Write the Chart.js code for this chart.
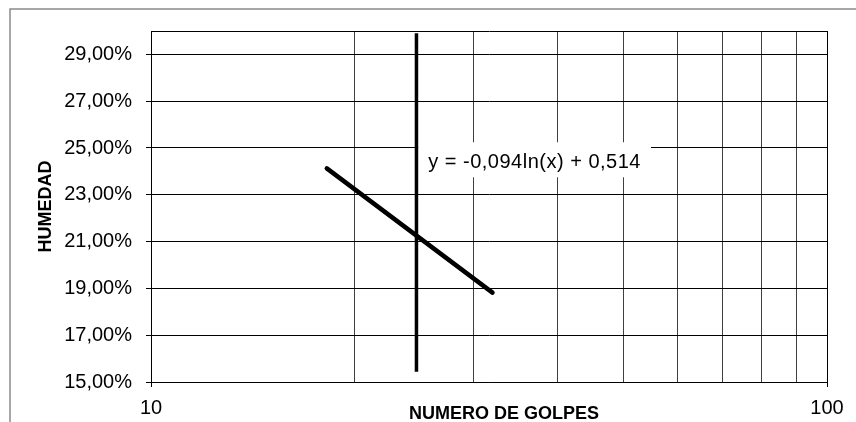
<!DOCTYPE html>
<html>
<head>
<meta charset="utf-8">
<script src="https://cdn.jsdelivr.net/npm/chart.js@4/dist/chart.umd.min.js"></script>
<style>
  html, body { margin: 0; padding: 0; background: #ffffff; }
  #wrap { position: relative; width: 856px; height: 422px; }
</style>
</head>
<body>
<div id="wrap"><canvas id="c" width="856" height="422"></canvas></div>
<script>
// ---- data ----
const xGridValues = [10, 20, 30, 40, 50, 60, 70, 80, 90, 100];
const xLabeledValues = [10, 100];
const yTickValues = [0.15, 0.17, 0.19, 0.21, 0.23, 0.25, 0.27, 0.29];
const yMin = 0.15;
const yMax = 0.30;
const xMin = 10;
const xMax = 100;

const trendX = [18.2, 32.0];
const trendY = [0.2413, 0.1882];

const verticalX = [24.7, 24.7];
const verticalY = [0.1544, 0.299];

const equationText = 'y = -0,094ln(x) + 0,514';
const equationAnchorX = 24.85;   // data units (left edge of label box)
const equationAnchorY = 0.2439;  // data units (vertical centre of label)

const xTitle = 'NUMERO DE GOLPES';
const yTitle = 'HUMEDAD';

// ---- helpers ----
function toPoints(xs, ys) { return xs.map((x, i) => ({ x: x, y: ys[i] })); }
function fmtPct(v) { return (v * 100).toFixed(2).replace('.', ',') + '%'; }

const framePlugin = {
  id: 'frame',
  beforeDraw(chart) {
    const ctx = chart.ctx;
    ctx.save();
    ctx.strokeStyle = '#8a8a8a';
    ctx.lineWidth = 1.5;
    ctx.beginPath();
    ctx.moveTo(10, 440);
    ctx.lineTo(10, 9);
    ctx.lineTo(870, 9);
    ctx.stroke();
    ctx.restore();
  }
};

const equationPlugin = {
  id: 'equation',
  beforeDatasetsDraw(chart) {
    const ctx = chart.ctx;
    const xs = chart.scales.x, ys = chart.scales.y;
    const left = xs.getPixelForValue(equationAnchorX);
    const cy = ys.getPixelForValue(equationAnchorY);
    ctx.save();
    ctx.font = '20px "Liberation Sans", Arial, sans-serif';
    try { ctx.letterSpacing = '0.5px'; } catch (e) {}
    const w = ctx.measureText(equationText).width;
    ctx.fillStyle = '#ffffff';
    ctx.fillRect(left, cy - 20, w + 20, 35);
    ctx.fillStyle = '#000000';
    ctx.textBaseline = 'middle';
    ctx.textAlign = 'left';
    ctx.fillText(equationText, left + 10, cy);
    ctx.restore();
  }
};

const xTitlePlugin = {
  id: 'xTitle',
  afterDraw(chart) {
    const ctx = chart.ctx;
    const a = chart.chartArea;
    ctx.save();
    ctx.font = 'bold 18px "Liberation Sans", Arial, sans-serif';
    ctx.fillStyle = '#000000';
    ctx.textAlign = 'center';
    ctx.textBaseline = 'alphabetic';
    ctx.fillText(xTitle, (a.left + a.right) / 2 + 15, a.bottom + 36.5);
    ctx.restore();
  }
};

const chart = new Chart(document.getElementById('c'), {
  type: 'scatter',
  data: {
    datasets: [
      {
        label: 'Tendencia',
        data: toPoints(trendX, trendY),
        showLine: true,
        borderColor: '#000000',
        borderWidth: 4.5,
        borderCapStyle: 'round',
        pointRadius: 0,
        fill: false
      },
      {
        label: 'Vertical',
        data: toPoints(verticalX, verticalY),
        showLine: true,
        borderColor: '#000000',
        borderWidth: 3.5,
        borderCapStyle: 'butt',
        pointRadius: 0,
        fill: false
      }
    ]
  },
  options: {
    responsive: false,
    animation: false,
    layout: { padding: { left: 0, right: 29, top: 31, bottom: 0 } },
    plugins: {
      legend: { display: false },
      tooltip: { enabled: false }
    },
    scales: {
      x: {
        type: 'logarithmic',
        min: xMin,
        max: xMax,
        afterBuildTicks(scale) { scale.ticks = xGridValues.map(v => ({ value: v })); },
        afterFit(scale) { scale.height = 40; },
        border: { display: true, color: '#000000', width: 1 },
        grid: {
          color: ctx => (ctx.tick && ctx.tick.value === 100) ? '#000000' : '#404040',
          tickColor: ctx => (ctx.tick && xLabeledValues.includes(ctx.tick.value)) ? '#000000' : 'rgba(0,0,0,0)',
          tickLength: 5,
          lineWidth: 1
        },
        ticks: {
          autoSkip: false,
          maxRotation: 0,
          minRotation: 0,
          padding: 9,
          color: '#000000',
          font: { family: '"Liberation Sans", Arial, sans-serif', size: 20 },
          callback: v => xLabeledValues.includes(v) ? String(v) : ''
        },
        title: { display: false }
      },
      y: {
        type: 'linear',
        min: yMin,
        max: yMax,
        afterBuildTicks(scale) { scale.ticks = yTickValues.concat([yMax]).map(v => ({ value: v })); },
        afterFit(scale) { scale.width = 151; },
        border: { display: true, color: '#000000', width: 1 },
        grid: {
          color: '#000000',
          tickColor: ctx => (ctx.tick && Math.abs(ctx.tick.value - yMax) < 1e-9) ? 'rgba(0,0,0,0)' : '#000000',
          tickLength: 5,
          lineWidth: 1
        },
        ticks: {
          autoSkip: false,
          padding: 14,
          color: '#000000',
          font: { family: '"Liberation Sans", Arial, sans-serif', size: 20 },
          callback: v => (Math.abs(v - yMax) < 1e-9) ? '' : fmtPct(v)
        },
        title: {
          display: true,
          text: yTitle,
          color: '#000000',
          font: { family: '"Liberation Sans", Arial, sans-serif', size: 18, weight: 'bold', lineHeight: 1.2 },
          padding: { top: 35, bottom: 0 }
        }
      }
    }
  },
  plugins: [framePlugin, equationPlugin, xTitlePlugin]
});
</script>
</body>
</html>
